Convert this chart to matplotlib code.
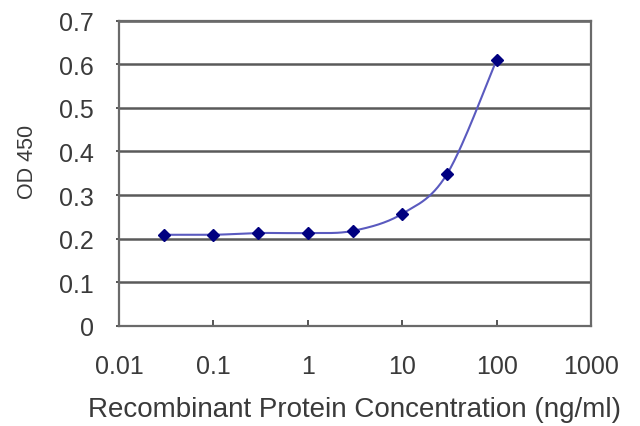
import numpy as np
import matplotlib
matplotlib.use("Agg")
from matplotlib import pyplot as plt

plt.rcParams['font.family'] = ['Liberation Sans', 'DejaVu Sans']

conc = [0.03, 0.1, 0.3, 1, 3, 10, 30, 100]
od = [0.209, 0.209, 0.213, 0.213, 0.218, 0.257, 0.349, 0.610]
xticks = [0.01, 0.1, 1, 10, 100, 1000]
xticklabels = ["0.01", "0.1", "1", "10", "100", "1000"]
yticks = [0, 0.1, 0.2, 0.3, 0.4, 0.5, 0.6, 0.7]
yticklabels = ["0", "0.1", "0.2", "0.3", "0.4", "0.5", "0.6", "0.7"]

# smooth line like excel: catmull-rom in log-x space
def smooth(xs, ys, n=30):
    p = np.column_stack([np.log10(xs), ys])
    p = np.vstack([p[0], p, p[-1]])
    out = []
    for i in range(1, len(p) - 2):
        p0, p1, p2, p3 = p[i-1], p[i], p[i+1], p[i+2]
        t = np.linspace(0, 1, n)[:, None]
        seg = 0.5 * ((2*p1) + (-p0 + p2)*t + (2*p0 - 5*p1 + 4*p2 - p3)*t**2
                     + (-p0 + 3*p1 - 3*p2 + p3)*t**3)
        out.append(seg)
    out = np.vstack(out)
    return 10**out[:, 0], out[:, 1]

fig = plt.figure(figsize=(6.4, 4.27), dpi=100)
ax = fig.add_axes([119/640, 1-327/427, (591-119)/640, (327-21.5)/427])

sx, sy = smooth(conc, od)
ax.plot(sx, sy, color="#5a5abf", lw=1.5, zorder=3)
ax.plot(conc, od, ls="none", marker="D", ms=6.5, color="#000080", zorder=4)

ax.set_xscale("log")
ax.set_xlim(0.01, 1000)
ax.set_ylim(0, 0.7)
ax.set_xticks(xticks)
ax.set_xticklabels(xticklabels)
ax.minorticks_off()
ax.set_yticks(yticks)
ax.set_yticklabels(yticklabels)
ax.yaxis.grid(True, color="#5a5a5a", lw=1.8)
ax.set_axisbelow(True)
for s in ax.spines.values():
    s.set_color("#6a6a6a")
    s.set_linewidth(1.6)
ax.tick_params(axis="x", direction="in", length=4, width=1.4, colors="#555555",
               labelcolor="#3a3a3a", labelsize=18, pad=20)
ax.tick_params(axis="y", direction="out", length=2, width=1.4, colors="#555555",
               labelcolor="#3a3a3a", labelsize=18, pad=16)
ax.set_xlabel("Recombinant Protein Concentration (ng/ml)", fontsize=20,
              color="#3a3a3a", labelpad=13)
ax.set_ylabel("OD 450", fontsize=15.5, color="#3a3a3a")
ax.yaxis.set_label_coords(-0.172, 0.54)

fig.savefig("out.png", dpi=100)
